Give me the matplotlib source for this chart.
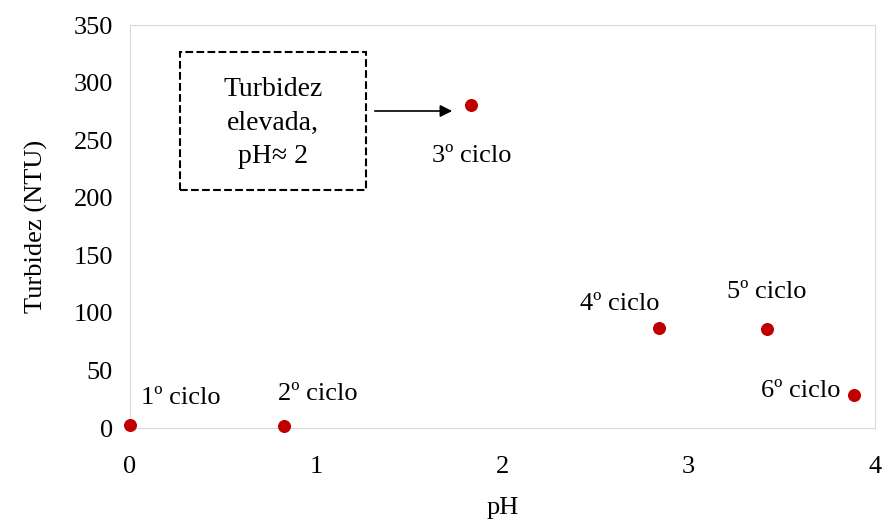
import matplotlib
matplotlib.use("Agg")
import matplotlib.pyplot as plt

ph = [0.0, 0.83, 1.83, 2.84, 3.42, 3.89]
turb = [3, 2, 281, 87, 86, 29]
labels = ["1º ciclo", "2º ciclo", "3º ciclo", "4º ciclo", "5º ciclo", "6º ciclo"]
offsets = [(37, 19), (24, 23), (1, -37), (-28, 17), (0, 27), (-39, 3)]

plt.rcParams['font.family'] = ['Liberation Serif', 'DejaVu Serif']
fig = plt.figure(figsize=(8.82, 5.24), dpi=100)
ax = fig.add_axes([0.147, 0.183, 0.845, 0.769])
ax.scatter(ph, turb, s=70, color='#c00000', zorder=3, clip_on=False)
for x, y, t, o in zip(ph, turb, labels, offsets):
    ax.annotate(t, (x, y), xytext=o, textcoords='offset points', ha='center', va='center', fontsize=19)
ax.set_xlim(0, 4)
ax.set_ylim(0, 350)
ax.set_xticks([0, 1, 2, 3, 4])
ax.set_yticks(range(0, 351, 50))
ax.tick_params(labelsize=19, length=0)
ax.tick_params(axis='x', pad=20)
ax.tick_params(axis='y', pad=12)
for s in ax.spines.values():
    s.set_color('#d9d9d9')
ax.set_xlabel('pH', fontsize=19, labelpad=14)
ax.set_ylabel('Turbidez (NTU)', fontsize=19, labelpad=18)

fig.text(273/882, 1 - 123/524, 'Turbidez\nelevada,\npH≈ 2', ha='center', va='center', fontsize=20,
         linespacing=1.45)
from matplotlib.patches import Rectangle
fig.patches.append(Rectangle((180/882, 1 - 190/524), 186/882, 138/524, transform=fig.transFigure,
                             fill=False, ls='--', lw=1.5, ec='black'))
ax.annotate('', xy=(455/882, 1 - 111/524), xytext=(372/882, 1 - 111/524),
            xycoords='figure fraction', textcoords='figure fraction',
            arrowprops=dict(arrowstyle='-|>', color='black', lw=1.2, mutation_scale=18))
fig.savefig('out.png', dpi=100)
